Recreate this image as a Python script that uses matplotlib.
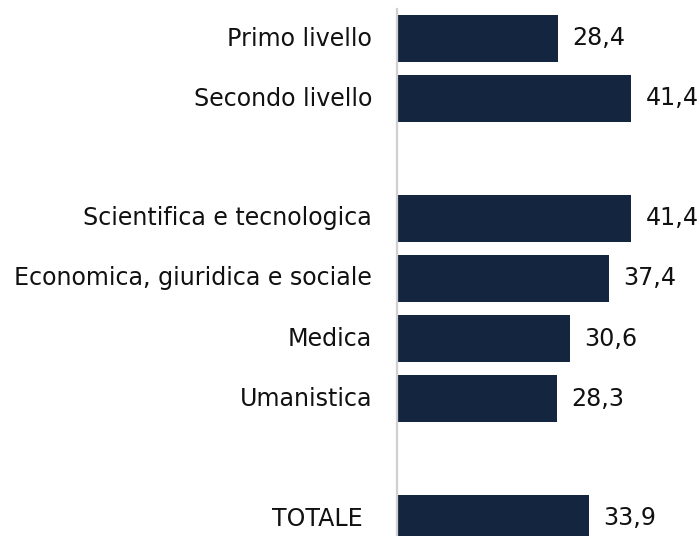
import numpy as np
import matplotlib
matplotlib.use("Agg")
import matplotlib.pyplot as plt

categories = ["Primo livello", "Secondo livello", "",
              "Scientifica e tecnologica", "Economica, giuridica e sociale",
              "Medica", "Umanistica", "", "TOTALE"]
values = [28.4, 41.4, np.nan, 41.4, 37.4, 30.6, 28.3, np.nan, 33.9]

bar_color = "#14263f"
plt.rcParams['font.family'] = ['DejaVu Sans']

fig = plt.figure(figsize=(7.0, 5.36), dpi=100)
ax = fig.add_axes([397/700, 0.0, 1 - 397/700, 1 - 9/536])

pos = np.arange(len(categories))
ax.barh(pos, values, height=0.78, color=bar_color, left=0)
ax.set_xlim(0, 53.5)
ax.set_ylim((536 - 38.5) / 60, -29.5 / 60)

for s in ["top", "right", "bottom"]:
    ax.spines[s].set_visible(False)
ax.spines["left"].set_color("#d0d0d0")
ax.spines["left"].set_linewidth(1.6)
ax.set_xticks([])
ax.set_yticks([])

fs = 17.1
for p, c, v in zip(pos, categories, values):
    if not c:
        continue
    off = -25 if c != "TOTALE" else -34
    ax.annotate(c, xy=(0, p), xytext=(off * 0.72, 0), textcoords="offset points",
                ha="right", va="center", fontsize=fs, color="#111111")
    ax.annotate(f"{v:.1f}".replace(".", ","), xy=(v, p), xytext=(14 * 0.72, 0),
                textcoords="offset points", ha="left", va="center",
                fontsize=fs, color="#111111", annotation_clip=False)

fig.savefig("out.png", dpi=100)
